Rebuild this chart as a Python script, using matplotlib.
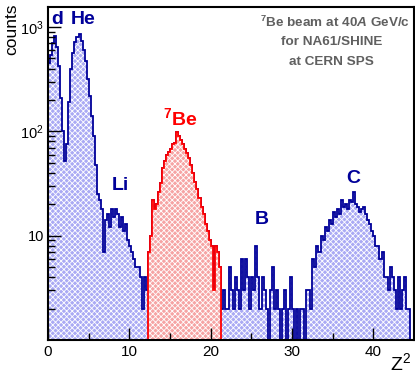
"""
Z^2 spectrum of the 7Be beam, NA61/SHINE
"""

import numpy as np
import matplotlib.pyplot as plt
import matplotlib as mpl

plt.rcParams['font.family'] = ['Liberation Sans', 'DejaVu Sans']
plt.rcParams['mathtext.fontset'] = 'custom'
plt.rcParams['mathtext.rm'] = 'Liberation Sans'
plt.rcParams['mathtext.it'] = 'Liberation Sans:italic'
plt.rcParams['mathtext.bf'] = 'Liberation Sans:bold'
plt.rcParams['mathtext.bfit'] = 'Liberation Sans:italic:bold'
plt.rcParams['hatch.linewidth'] = 0.6

# bin width 0.25 in Z^2, counts
bin_width = 0.25
# Z^2 = 0 .. 12.25  (d, He, Li)
counts_light = [450, 540, 700, 820, 640, 420, 210, 100, 52, 75,
                190, 400, 560, 720, 800, 850, 730, 600, 470, 320,
                220, 140, 90, 48, 25, 22, 18, 7, 14, 16,
                12, 18, 15, 18, 16, 12, 15, 11, 13, 9,
                8, 7, 6, 5, 5, 4, 2, 4, 3]
# Z^2 = 12.25 .. 21.25  (7Be, selected)
counts_be7 = [7, 10, 22, 18, 20, 26, 32, 45, 52, 60,
              64, 68, 75, 78, 98, 90, 82, 75, 68, 62,
              55, 48, 40, 33, 28, 23, 19, 16, 13, 11,
              9, 8, 3, 8, 7, 5]
# Z^2 = 21.25 .. 45  (B, C)
counts_heavy = [2, 3, 2, 2, 5, 3, 2, 4, 3, 2,
                6, 3, 6, 4, 2, 4, 3, 8, 4, 2,
                4, 3, 2, 1, 3, 5, 2, 3, 2, 1,
                2, 3, 0, 2, 4, 2, 1, 2, 0, 2,
                2, 1, 3, 3, 2,
                6, 5, 8, 7, 10, 9, 12, 11, 14, 13,
                17, 15, 18, 16, 22, 19, 20, 18, 22, 21,
                26, 20, 19, 17, 18, 19, 16, 14, 13, 11,
                10, 8, 8, 6, 7, 4, 4, 3, 5, 4,
                3, 2, 4, 2, 3, 4, 2, 2, 0, 0]

counts = np.array(counts_light + counts_be7 + counts_heavy, dtype=float)
edges = np.arange(len(counts) + 1) * bin_width
i0 = len(counts_light)
i1 = i0 + len(counts_be7)

navy = '#000099'

fig = plt.figure(figsize=(4.15, 3.77), dpi=100)
ax = fig.add_axes([0.1157, 0.098, 0.882, 0.883])
ax.set_yscale('log')

# blue full histogram
ax.stairs(counts, edges, baseline=0.5, fill=True, facecolor='#aaaaf4',
          edgecolor='white', hatch='xxxxxx', linewidth=0)
ax.stairs(counts, edges, baseline=0.5, color=navy, linewidth=1.3)

# red selected 7Be part
ax.stairs(counts[i0:i1], edges[i0:i1 + 1], baseline=0.5, fill=True,
          facecolor='#f6a4a4', edgecolor='white', hatch='xxxxxx', linewidth=0)
ax.stairs(counts[i0:i1], edges[i0:i1 + 1], baseline=0.5, color='red', linewidth=1.3)

ax.set_xlim(0, 45)
ax.set_ylim(1, 1550)

ax.set_xticks([0, 10, 20, 30, 40])
ax.set_xticks([5, 15, 25, 35], minor=True)
ax.set_yticks([10, 100, 1000], ['10', '$10^{2}$', '$10^{3}$'])
ax.yaxis.set_minor_locator(mpl.ticker.LogLocator(base=10, subs=np.arange(2, 10)))
ax.yaxis.set_minor_formatter(mpl.ticker.NullFormatter())
ax.tick_params(which='both', direction='in', width=1)
ax.tick_params(axis='x', labelsize=11)
ax.tick_params(axis='y', labelsize=10.5, pad=3)
ax.tick_params(which='major', length=9)
ax.tick_params(which='minor', length=5)
for s in ax.spines.values():
    s.set_linewidth(1.5)

fig.text(0.028, 0.99, 'counts', rotation=90, ha='center', va='top', fontsize=12.5)
fig.text(0.99, 0.008, 'Z$^{2}$', ha='right', va='bottom', fontsize=14)

lab = dict(transform=ax.transAxes, ha='center', va='center', fontsize=14,
           fontweight='bold', color=navy)
ax.text(0.025, 0.964, 'd', **lab)
ax.text(0.096, 0.964, 'He', **lab)
ax.text(0.199, 0.465, 'Li', **lab)
ax.text(0.585, 0.363, 'B', **lab)
ax.text(0.833, 0.486, 'C', **lab)
lab['color'] = 'red'
ax.text(0.361, 0.667, r'$\mathbf{^{7}Be}$', **lab)

grey = '#606060'
box = dict(transform=ax.transAxes, ha='center', va='center', fontsize=9.7,
           fontweight='bold', color=grey)
ax.text(0.785, 0.955, r'$\mathbf{^{7}Be\ beam\ at\ 40}\mathbfit{A}\mathbf{\ GeV/c}$', **box)
ax.text(0.775, 0.895, 'for NA61/SHINE', **box)
ax.text(0.775, 0.835, 'at CERN SPS', **box)

fig.savefig('out.png', dpi=100)
